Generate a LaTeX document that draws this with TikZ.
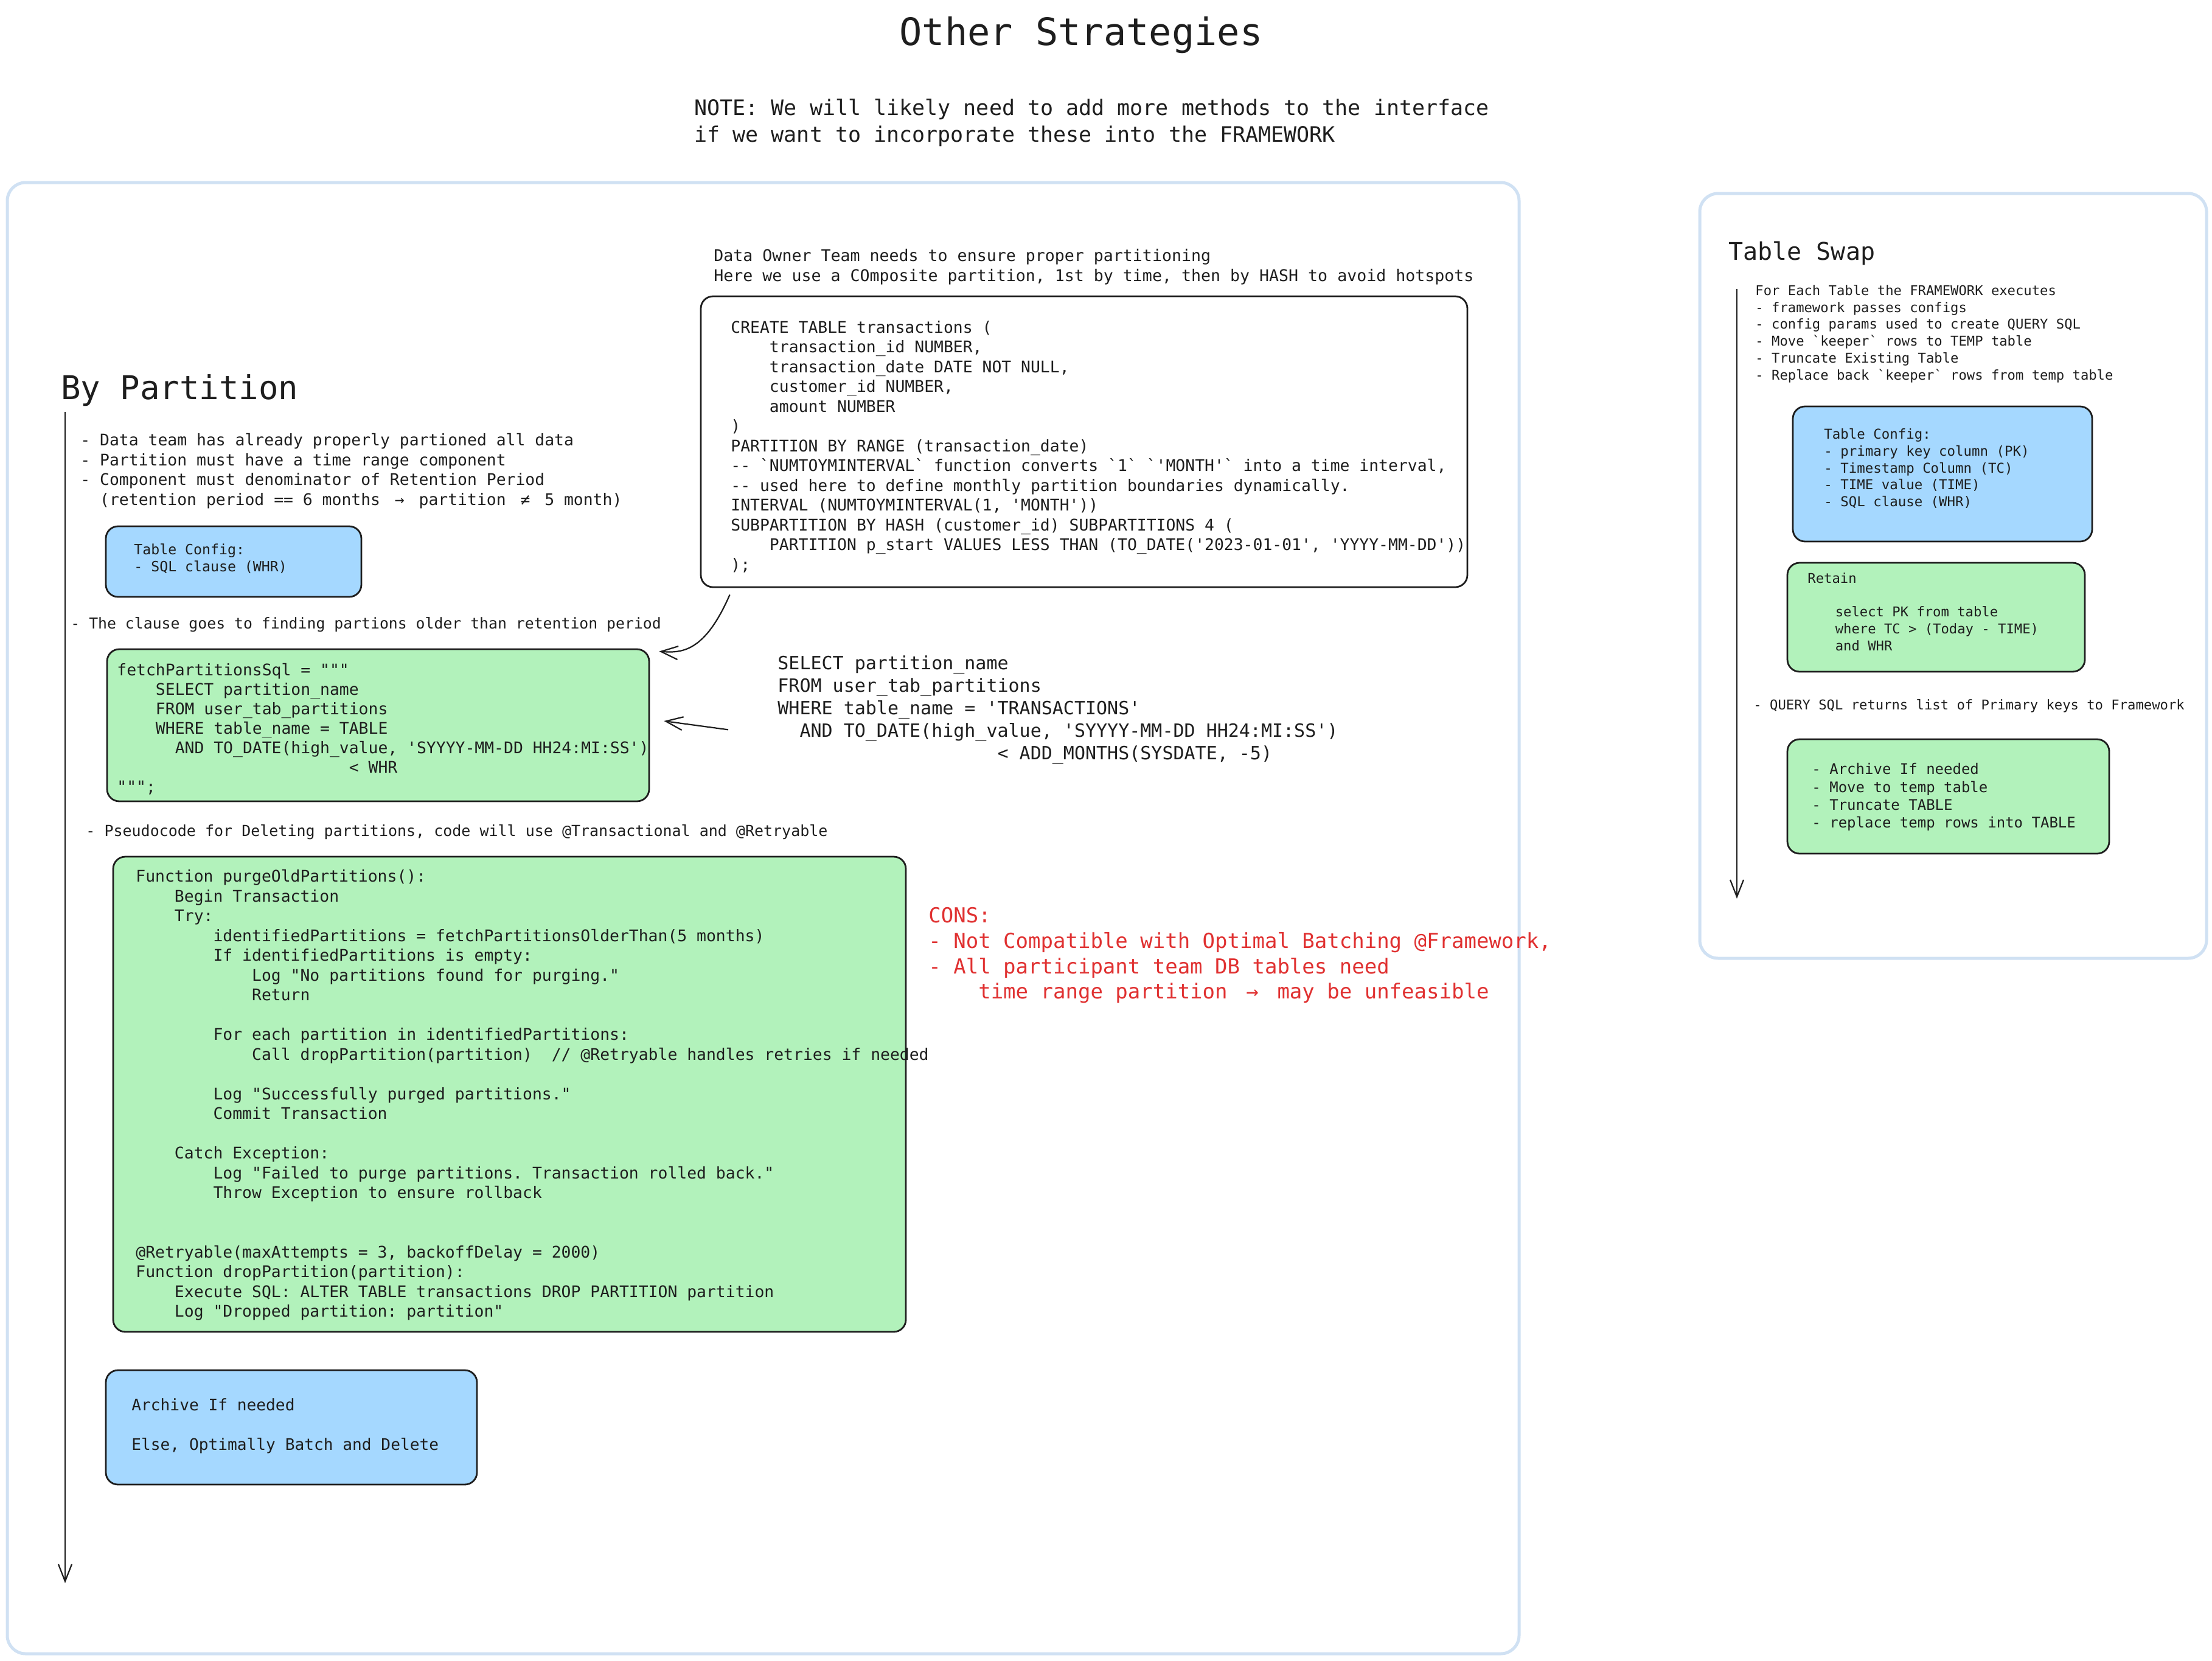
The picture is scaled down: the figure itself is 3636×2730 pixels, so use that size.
\documentclass[tikz,border=0pt]{standalone}
\usepackage{fontspec}
\setmonofont{DejaVu Sans Mono}
\usetikzlibrary{arrows.meta,fit}

\definecolor{ink}{HTML}{1E1E1E}
\definecolor{boxblue}{HTML}{A5D8FF}
\definecolor{boxgreen}{HTML}{B2F2BB}
\definecolor{framecol}{HTML}{D0E1F3}
\definecolor{consred}{HTML}{E03131}

\newcommand\fsz[2]{\fontsize{#1}{#2}\selectfont}
\newcommand\ind[1]{\hspace*{#1\dimexpr0.602em\relax}}
\newcommand\twocell[1]{\makebox[1.204em]{#1}}

\begin{document}
\begin{tikzpicture}[x=0.5pt, y=-0.5pt,
    txt/.style={inner sep=0pt, anchor=base west, align=left, text=ink},
    block/.style={txt, anchor=north west},
    frame/.style={draw=framecol, line width=2.5pt, rounded corners=15pt, inner sep=0pt},
    bluebox/.style={draw=ink, fill=boxblue, line width=1.4pt, rounded corners=10pt, inner sep=0pt},
    greenbox/.style={bluebox, fill=boxgreen},
    codebox/.style={bluebox, fill=white},
    conn/.style={draw=ink, line width=1.1pt, -{Straight Barb[length=14pt, width=11pt]}}]
    \useasboundingbox (0,0) rectangle (3636,2730);

    % Heading
    \node[txt, anchor=base, font=\ttfamily\fsz{31}{38}] (title) at (1777,74) {Other Strategies};
    \node[block, font=\ttfamily\fsz{17.5}{22}] (note) at (1141,162)
        {NOTE: We will likely need to add more methods to the interface\\
         if we want to incorporate these into the FRAMEWORK};

    % Frames
    \node[frame, fit={(12,300) (2497,2718)}] (leftframe) {};
    \node[frame, fit={(2794,318) (3627,1575)}] (rightframe) {};

    % By Partition
    \node[txt, font=\ttfamily\fsz{27}{34}] (bypart) at (100,656) {By Partition};
    \coordinate (ltop) at (107,677);
    \coordinate (lbot) at (107,2602);
    \draw[conn] (ltop) -- (lbot);

    \node[block, font=\ttfamily\fsz{13.2}{16.25}] (rules) at (132,712)
        {- Data team has already properly partioned all data\\
         - Partition must have a time range component\\
         - Component must denominator of Retention Period\\
         \ind{2}(retention period == 6 months \twocell{→} partition \twocell{≠} 5 month)};

    \node[bluebox, fit={(174,865) (594,981)}] (cfgleft) {};
    \node[block, font=\ttfamily\fsz{11.6}{14}] (cfglefttxt) at (220,893)
        {Table Config:\\- SQL clause (WHR)};

    \node[txt, font=\ttfamily\fsz{12.4}{15}] (clause) at (116,1033)
        {- The clause goes to finding partions older than retention period};

    \node[greenbox, fit={(176,1067) (1067,1317)}] (fetch) {};
    \node[block, font=\ttfamily\fsz{13.2}{16}] (fetchtxt) at (192,1090)
        {fetchPartitionsSql = """\\
         \ind{4}SELECT partition\_name\\
         \ind{4}FROM user\_tab\_partitions\\
         \ind{4}WHERE table\_name = TABLE\\
         \ind{6}AND TO\_DATE(high\_value, 'SYYYY-MM-DD HH24:MI:SS')\\
         \ind{24}< WHR\\
         """;};

    \node[txt, font=\ttfamily\fsz{12.5}{15}] (pseudonote) at (141,1374)
        {- Pseudocode for Deleting partitions, code will use @Transactional and @Retryable};

    \node[greenbox, fit={(186,1408) (1489,2189)}] (pseudo) {};
    \node[block, font=\ttfamily\fsz{13.2}{16.25}] (pseudotxt) at (223,1429)
        {Function purgeOldPartitions():\\
         \ind{4}Begin Transaction\\
         \ind{4}Try:\\
         \ind{8}identifiedPartitions = fetchPartitionsOlderThan(5 months)\\
         \ind{8}If identifiedPartitions is empty:\\
         \ind{12}Log "No partitions found for purging."\\
         \ind{12}Return\\
         ~\\
         \ind{8}For each partition in identifiedPartitions:\\
         \ind{12}Call dropPartition(partition)\ind{2}// @Retryable handles retries if needed\\
         ~\\
         \ind{8}Log "Successfully purged partitions."\\
         \ind{8}Commit Transaction\\
         ~\\
         \ind{4}Catch Exception:\\
         \ind{8}Log "Failed to purge partitions. Transaction rolled back."\\
         \ind{8}Throw Exception to ensure rollback\\
         ~\\
         ~\\
         @Retryable(maxAttempts = 3, backoffDelay = 2000)\\
         Function dropPartition(partition):\\
         \ind{4}Execute SQL: ALTER TABLE transactions DROP PARTITION partition\\
         \ind{4}Log "Dropped partition: partition"};

    \node[bluebox, fit={(174,2252) (784,2440)}] (archive) {};
    \node[block, font=\ttfamily\fsz{13.1}{16.25}] (archivetxt) at (216,2298)
        {Archive If needed\\~\\Else, Optimally Batch and Delete};

    % Table definition
    \node[block, font=\ttfamily\fsz{13.3}{16.25}] (owner) at (1173,409)
        {Data Owner Team needs to ensure proper partitioning\\
         Here we use a COmposite partition, 1st by time, then by HASH to avoid hotspots};

    \node[codebox, fit={(1152,487) (2412,965)}] (create) {};
    \node[block, font=\ttfamily\fsz{13.2}{16.25}] (createtxt) at (1201,527)
        {CREATE TABLE transactions (\\
         \ind{4}transaction\_id NUMBER,\\
         \ind{4}transaction\_date DATE NOT NULL,\\
         \ind{4}customer\_id NUMBER,\\
         \ind{4}amount NUMBER\\
         )\\
         PARTITION BY RANGE (transaction\_date)\\
         -- `NUMTOYMINTERVAL` function converts `1` `'MONTH'` into a time interval,\\
         -- used here to define monthly partition boundaries dynamically.\\
         INTERVAL (NUMTOYMINTERVAL(1, 'MONTH'))\\
         SUBPARTITION BY HASH (customer\_id) SUBPARTITIONS 4 (\\
         \ind{4}PARTITION p\_start VALUES LESS THAN (TO\_DATE('2023-01-01', 'YYYY-MM-DD'))\\
         );};

    \node[block, font=\ttfamily\fsz{15}{18.5}] (select) at (1278,1077)
        {SELECT partition\_name\\
         FROM user\_tab\_partitions\\
         WHERE table\_name = 'TRANSACTIONS'\\
         \ind{2}AND TO\_DATE(high\_value, 'SYYYY-MM-DD HH24:MI:SS')\\
         \ind{20}< ADD\_MONTHS(SYSDATE, -5)};

    \draw[conn] ([shift={(49,11)}]create.south west) .. controls +(-41,94) and +(38,3) .. ([shift={(15,5)}]fetch.north east);
    \draw[conn] ([shift={(-81,33)}]select.west) -- ([shift={(23,-7)}]fetch.east);

    % Cons
    \node[block, text=consred, font=\ttfamily\fsz{17}{20.85}] (cons) at (1526,1491)
        {CONS:\\
         - Not Compatible with Optimal Batching @Framework,\\
         - All participant team DB tables need\\
         \ind{4}time range partition \twocell{→} may be unfeasible};

    % Table Swap
    \node[txt, font=\ttfamily\fsz{20}{25}] (swap) at (2841,427) {Table Swap};
    \coordinate (rtop) at (2855,475);
    \coordinate (rbot) at (2855,1477);
    \draw[conn] (rtop) -- (rbot);

    \node[block, font=\ttfamily\fsz{11.1}{13.9}] (steps) at (2885,468)
        {For Each Table the FRAMEWORK executes\\
         - framework passes configs\\
         - config params used to create QUERY SQL\\
         - Move `keeper` rows to TEMP table\\
         - Truncate Existing Table\\
         - Replace back `keeper` rows from temp table};

    \node[bluebox, fit={(2947,668) (3439,890)}] (cfgright) {};
    \node[block, font=\ttfamily\fsz{11.2}{13.9}] (cfgrighttxt) at (2998,704)
        {Table Config:\\
         - primary key column (PK)\\
         - Timestamp Column (TC)\\
         - TIME value (TIME)\\
         - SQL clause (WHR)};

    \node[greenbox, fit={(2938,925) (3427,1104)}] (retain) {};
    \node[block, font=\ttfamily\fsz{11.1}{13.9}] (retaintxt) at (2971,941)
        {Retain\\
         ~\\
         \ind{3.4}select PK from table\\
         \ind{3.4}where TC > (Today - TIME)\\
         \ind{3.4}and WHR};

    \node[txt, font=\ttfamily\fsz{11.1}{13.9}] (query) at (2882,1166)
        {- QUERY SQL returns list of Primary keys to Framework};

    \node[greenbox, fit={(2938,1215) (3467,1403)}] (swapsteps) {};
    \node[block, font=\ttfamily\fsz{12}{14.7}] (swapstepstxt) at (2978,1254)
        {- Archive If needed\\
         - Move to temp table\\
         - Truncate TABLE\\
         - replace temp rows into TABLE};
\end{tikzpicture}
\end{document}
